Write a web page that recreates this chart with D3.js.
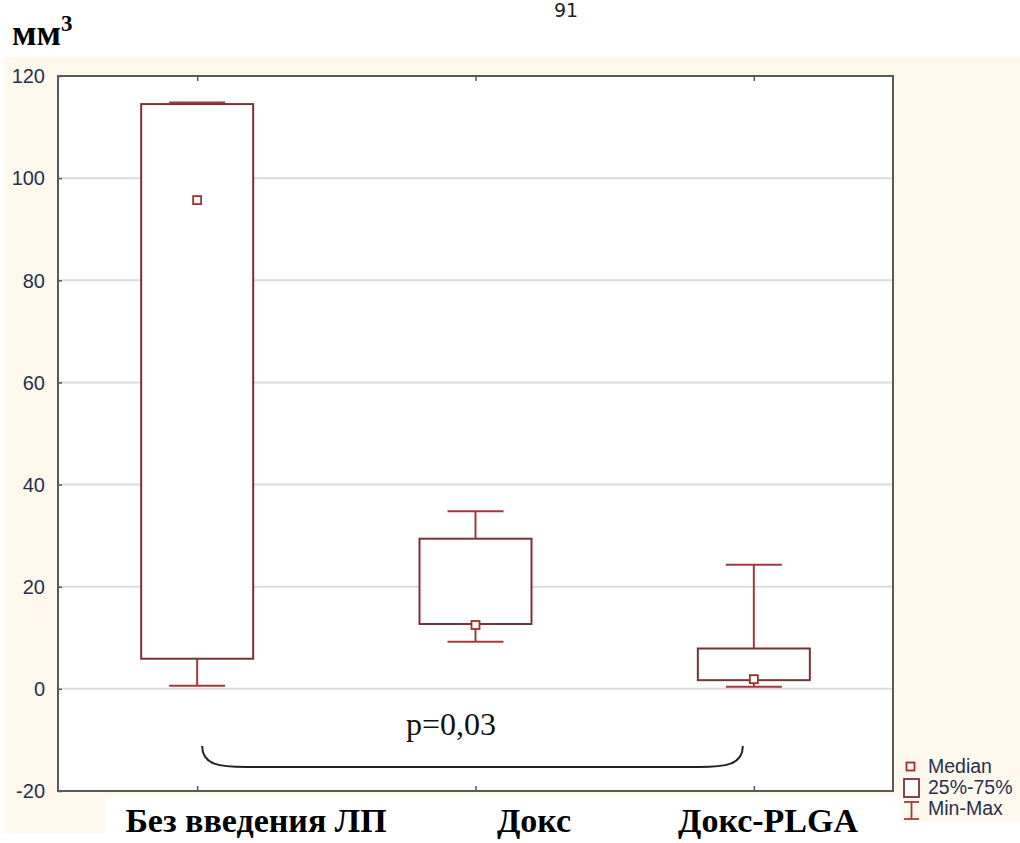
<!DOCTYPE html>
<html>
<head>
<meta charset="utf-8">
<script src="https://cdn.jsdelivr.net/npm/d3@7"></script>
<style>
  html, body { margin: 0; padding: 0; background: #ffffff; }
  svg { display: block; }
</style>
</head>
<body>
<svg id="chart" width="1020" height="843"></svg>
<script>
// Groups and their box-plot statistics (tumour volume, mm³)
const categories = ["Без введения ЛП", "Докс", "Докс-PLGA"];
const minValues    = [0.6, 9.2, 0.4];
const q1Values     = [5.9, 12.7, 1.7];
const medianValues = [95.7, 12.5, 1.9];
const q3Values     = [114.5, 29.4, 7.9];
const maxValues    = [114.8, 34.8, 24.3];
const yTicks = [-20, 0, 20, 40, 60, 80, 100, 120];
const legendLabels = ["Median", "25%-75%", "Min-Max"];
const pValueLabel = "p=0,03";

const svg = d3.select("#chart");
const W = 1020, H = 843;
const m = { left: 58, right: 893, top: 76, bottom: 791 };

const boxStroke = "#7a3236";
const whiskerStroke = "#a23a3c";
const medianStroke = "#a52a2a";
const labelColor = "#263150";

// Backgrounds
svg.append("rect").attr("x", 4).attr("y", 57).attr("width", W - 4).attr("height", 765)
  .attr("fill", "#fef8ed");
svg.append("rect").attr("x", 4).attr("y", 57).attr("width", 101).attr("height", 776)
  .attr("fill", "#fef8ed");
svg.append("rect").attr("x", 105).attr("y", 796).attr("width", 795).attr("height", 47)
  .attr("fill", "#ffffff");

const y = d3.scaleLinear().domain([-20, 120]).range([m.bottom, m.top]);
const x = d3.scalePoint().domain(categories).range([m.left, m.right]).padding(0.5);

// Plot area
svg.append("rect").attr("x", m.left).attr("y", m.top)
  .attr("width", m.right - m.left).attr("height", m.bottom - m.top)
  .attr("fill", "#ffffff");

// Gridlines
svg.append("g").selectAll("line").data(yTicks.filter(d => d > -20 && d < 120)).join("line")
  .attr("x1", m.left).attr("x2", m.right)
  .attr("y1", d => y(d)).attr("y2", d => y(d))
  .attr("stroke", "#dcdcdc").attr("stroke-width", 2);

// Y axis labels and inner ticks
const yAxis = d3.axisLeft(y).tickValues(yTicks).tickSize(-4).tickPadding(13)
  .tickFormat(d => String(d));
const gy = svg.append("g").attr("transform", `translate(${m.left},0)`).call(yAxis);
gy.select(".domain").remove();
gy.selectAll(".tick line").attr("stroke", "#555").attr("stroke-width", 1.5);
gy.selectAll(".tick text").attr("fill", labelColor)
  .attr("font-family", "Liberation Sans, Arial, sans-serif").attr("font-size", 20)
  .attr("dy", "0.34em");

// Category ticks on top and bottom edges (pointing inward)
const xb = svg.append("g").attr("transform", `translate(0,${m.bottom})`)
  .call(d3.axisBottom(x).tickSize(-5).tickFormat(""));
xb.select(".domain").remove();
xb.selectAll(".tick line").attr("stroke", "#555").attr("stroke-width", 1.5);
const xt = svg.append("g").attr("transform", `translate(0,${m.top})`)
  .call(d3.axisTop(x).tickSize(-5).tickFormat(""));
xt.select(".domain").remove();
xt.selectAll(".tick line").attr("stroke", "#555").attr("stroke-width", 1.5);

// Plot frame
svg.append("rect").attr("x", m.left).attr("y", m.top)
  .attr("width", m.right - m.left).attr("height", m.bottom - m.top)
  .attr("fill", "none").attr("stroke", "#5a5a5a").attr("stroke-width", 2);

// Box plots
const boxW = 112, capW = 56, medS = 8;
const groups = categories.map((c, i) => ({
  c, min: minValues[i], q1: q1Values[i], med: medianValues[i],
  q3: q3Values[i], max: maxValues[i]
}));
const g = svg.append("g").selectAll("g").data(groups).join("g")
  .attr("transform", d => `translate(${x(d.c)},0)`);

// whiskers
g.append("line").attr("x1", 0).attr("x2", 0)
  .attr("y1", d => y(d.q3)).attr("y2", d => y(d.max))
  .attr("stroke", whiskerStroke).attr("stroke-width", 2);
g.append("line").attr("x1", 0).attr("x2", 0)
  .attr("y1", d => y(d.q1)).attr("y2", d => y(d.min))
  .attr("stroke", whiskerStroke).attr("stroke-width", 2);
g.append("line").attr("x1", -capW / 2).attr("x2", capW / 2)
  .attr("y1", d => y(d.max)).attr("y2", d => y(d.max))
  .attr("stroke", whiskerStroke).attr("stroke-width", 2);
g.append("line").attr("x1", -capW / 2).attr("x2", capW / 2)
  .attr("y1", d => y(d.min)).attr("y2", d => y(d.min))
  .attr("stroke", whiskerStroke).attr("stroke-width", 2);
// boxes
g.append("rect").attr("x", -boxW / 2).attr("width", boxW)
  .attr("y", d => y(d.q3)).attr("height", d => y(d.q1) - y(d.q3))
  .attr("fill", "#ffffff").attr("stroke", boxStroke).attr("stroke-width", 2);
// medians
g.append("rect").attr("x", -medS / 2).attr("width", medS)
  .attr("y", d => y(d.med) - medS / 2).attr("height", medS)
  .attr("fill", "#ffffff").attr("stroke", medianStroke).attr("stroke-width", 1.8);

// Significance bracket between first and last groups
const bx0 = x(categories[0]) + 5, bx1 = x(categories[2]) - 11;
const byTop = 746, byBot = 767, rx = 44;
svg.append("path")
  .attr("d", `M${bx0},${byTop} C${bx0},${byBot - 2} ${bx0 + rx * 0.4},${byBot} ${bx0 + rx},${byBot}
              L${bx1 - rx},${byBot} C${bx1 - rx * 0.4},${byBot} ${bx1},${byBot - 2} ${bx1},${byTop}`)
  .attr("fill", "none").attr("stroke", "#222").attr("stroke-width", 2);
svg.append("text").attr("x", 451).attr("y", 735).attr("text-anchor", "middle")
  .attr("font-family", "Liberation Serif, Times New Roman, serif").attr("font-size", 32)
  .attr("fill", "#111").text(pValueLabel);

// Unit label
const unit = svg.append("text").attr("x", 12).attr("y", 45)
  .attr("font-family", "Liberation Serif, Times New Roman, serif")
  .attr("font-weight", "bold").attr("font-size", 36).attr("fill", "#000");
unit.append("tspan").text("мм");
unit.append("tspan").attr("dy", -14).attr("font-size", 23).text("3");

// Page number
svg.append("text").attr("x", 566).attr("y", 17).attr("text-anchor", "middle")
  .attr("font-family", "DejaVu Sans, sans-serif").attr("font-size", 19)
  .attr("fill", "#222").text("91");

// Category labels
const catLabelX = [256, 534, 768];
svg.append("g").selectAll("text").data(categories).join("text")
  .attr("x", (d, i) => catLabelX[i]).attr("y", 832).attr("text-anchor", "middle")
  .attr("font-family", "Liberation Serif, Times New Roman, serif")
  .attr("font-weight", "bold").attr("font-size", 34).attr("fill", "#000")
  .text(d => d);

// Legend
const lg = svg.append("g").attr("transform", "translate(903,757)");
lg.append("rect").attr("x", 3.5).attr("y", 5.5).attr("width", 8).attr("height", 8)
  .attr("fill", "#fff").attr("stroke", medianStroke).attr("stroke-width", 1.8);
lg.append("rect").attr("x", 1).attr("y", 22).attr("width", 15).attr("height", 18)
  .attr("fill", "#fff").attr("stroke", boxStroke).attr("stroke-width", 1.8);
lg.append("line").attr("x1", 8.5).attr("x2", 8.5).attr("y1", 45).attr("y2", 62)
  .attr("stroke", whiskerStroke).attr("stroke-width", 1.8);
lg.append("line").attr("x1", 1).attr("x2", 16).attr("y1", 45).attr("y2", 45)
  .attr("stroke", whiskerStroke).attr("stroke-width", 1.8);
lg.append("line").attr("x1", 1).attr("x2", 16).attr("y1", 62).attr("y2", 62)
  .attr("stroke", whiskerStroke).attr("stroke-width", 1.8);
lg.selectAll("text.lbl").data(legendLabels).join("text").attr("class", "lbl")
  .attr("x", 25).attr("y", (d, i) => 16 + i * 21)
  .attr("font-family", "Liberation Sans, Arial, sans-serif").attr("font-size", 19.5)
  .attr("fill", labelColor).text(d => d);
</script>
</body>
</html>
